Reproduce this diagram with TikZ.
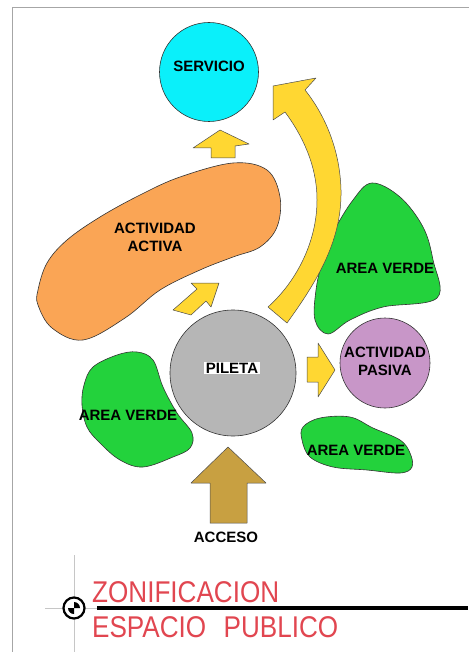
\documentclass[tikz,border=0pt]{standalone}
\usepackage{fontspec}
\setmainfont{Liberation Sans}
\usepackage{tikz}
\usetikzlibrary{positioning}
\definecolor{mycyan}{RGB}{10, 240, 250}
\definecolor{myorange}{RGB}{250, 165, 85}
\definecolor{mygreen}{RGB}{35, 210, 60}
\definecolor{mygray}{RGB}{182, 182, 182}
\definecolor{mypurple}{RGB}{200, 150, 200}
\definecolor{myyellow}{RGB}{255, 215, 50}
\definecolor{mybrown}{RGB}{200, 160, 65}
\definecolor{myred}{RGB}{225, 70, 80}

\tikzset{
  zone/.style={draw=black!80, line width=0.6pt},
  room/.style={circle, draw=black!80, line width=0.6pt, inner sep=0pt},
  tag/.style={font=\fontsize{15}{18}\selectfont\bfseries, align=center, text=black},
  flecha/.style={draw=black!70, fill=myyellow, line width=0.5pt, line join=round},
  cad/.style={text=myred, font=\fontsize{30}{30}\selectfont, xscale=0.87, inner sep=0pt, anchor=base west}
}

\begin{document}
\begin{tikzpicture}[x=1pt, y=-1pt]
    \useasboundingbox (0,0) rectangle (468,652);
    \draw[gray!70, line width=1pt] (12,652) -- (12,8) -- (470,8);

    % Zonas
    \draw[zone, fill=myorange] plot[smooth cycle, tension=0.6] coordinates {
      (38,290) (47,263) (67,240) (100,217) (140,195) (180,177) (233,163) (267,170)
      (280,197) (277,227) (260,247) (233,257) (200,270) (160,290) (125,318)
      (83,340) (52,328) (38,305)};
    \draw[zone, fill=mygreen] plot[smooth cycle, tension=0.6] coordinates {
      (372,183) (400,197) (423,227) (433,260) (437,298) (383,307) (350,320)
      (328,334) (315,320) (316,290) (322,263) (333,233) (353,200)};
    \draw[zone, fill=mygreen] plot[smooth cycle, tension=0.6] coordinates {
      (93,367) (117,355) (137,352) (153,360) (163,387) (177,413) (192,433)
      (190,448) (173,457) (143,467) (120,460) (100,443) (87,427) (82,405) (84,385)};
    \draw[zone, fill=mygreen] plot[smooth cycle, tension=0.6] coordinates {
      (303,427) (320,418) (350,417) (373,428) (400,440) (410,453) (412,467)
      (400,473) (367,470) (333,467) (310,457) (302,440)};

    \node[room, fill=mycyan, minimum size=99pt] (servicio) at (209,72) {};
    \node[room, fill=mygray, minimum size=126pt] (pileta) at (233,373) {};
    \node[room, fill=mypurple, minimum size=90pt] (pasiva) at (385,363) {};

    % Flechas
    \draw[flecha] (268,307) -- (287,323) .. controls (318,280) and (342,240) .. (341,190)
      .. controls (340,150) and (325,115) .. (305,90) -- (316,78) -- (273,86) -- (273,120)
      -- (285,112) .. controls (302,135) and (317,165) .. (317,200)
      .. controls (317,240) and (298,280) .. (268,307) -- cycle;
    \draw[flecha] (220,130) -- (249,144) -- (235,146) -- (235,158) -- (211,158)
      -- (211,148) -- (193,148) -- cycle;
    \draw[flecha] (219,283) -- (211,307) -- (206,301) -- (191,315) -- (173,310)
      -- (197,289) -- (191,283) -- cycle;
    \draw[flecha] (307,357) -- (318,357) -- (318,343) -- (335,370) -- (318,397)
      -- (318,382) -- (307,382) -- cycle;
    \draw[flecha, fill=mybrown] (228,447) -- (266,483) -- (247,483) -- (247,523)
      -- (210,523) -- (210,483) -- (191,483) -- cycle;

    % Textos
    \node[tag] (servtxt) at (209,66) {SERVICIO};
    \node[tag] (activa) at (155,237) {ACTIVIDAD\\ACTIVA};
    \node[tag, fill=white, inner xsep=2pt, inner ysep=1pt] (piltxt) at (232,368) {PILETA};
    \node[tag] (pastxt) at (385,361) {ACTIVIDAD\\PASIVA};
    \node[tag] (verde1) at (385,268) {AREA VERDE};
    \node[tag] (verde2) at (128,415) {AREA VERDE};
    \node[tag] (verde3) at (356,450) {AREA VERDE};
    \node[tag] (acceso) at (226,537) {ACCESO};

    % Rotulo
    \draw[gray!45, line width=0.5pt] (74,555) -- (74,652);
    \draw[gray!45, line width=0.5pt] (45,608) -- (97,608);
    \draw[line width=4pt] (97,608) -- (468,608);
    \draw[line width=2.2pt, fill=white] (74,608) circle (10.5);
    \fill (74,608) -- ++(6,0) arc[start angle=0, end angle=-90, radius=6] -- cycle;
    \fill (74,608) -- ++(-6,0) arc[start angle=180, end angle=90, radius=6] -- cycle;
    \node[cad] (titulo) at (92,602) {ZONIFICACION};
    \node[cad] (subtitulo) at (92,637) {ESPACIO\hspace{20pt}PUBLICO};
\end{tikzpicture}
\end{document}
